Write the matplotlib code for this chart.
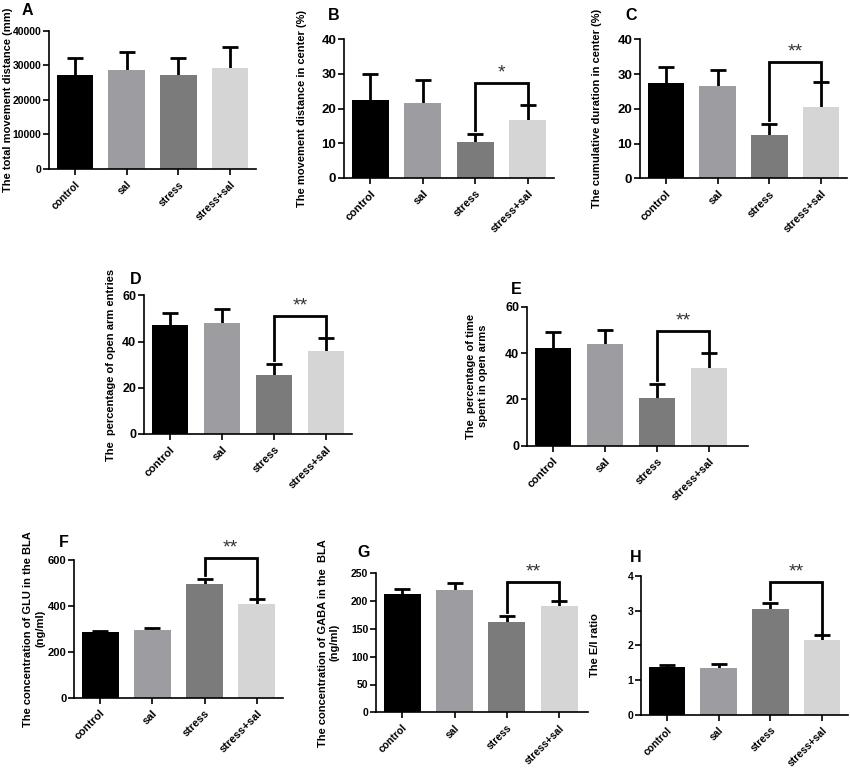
import numpy as np
import matplotlib
matplotlib.use("Agg")
from matplotlib import pyplot as plt

plt.rcParams['font.family'] = ['Liberation Sans', 'DejaVu Sans']
plt.rcParams['font.weight'] = 'bold'

groups = ["control", "sal", "stress", "stress+sal"]
colors = ["#000000", "#9d9da1", "#7b7b7b", "#d5d5d5"]

# mean and error values
a_mean = [27300, 28800, 27300, 29200]
a_err = [4800, 5000, 4800, 6100]
b_mean = [22.5, 21.5, 10.4, 16.7]
b_err = [7.4, 6.8, 2.2, 4.2]
c_mean = [27.5, 26.6, 12.5, 20.6]
c_err = [4.4, 4.6, 3.1, 7.1]
d_mean = [47.2, 48.1, 25.5, 35.9]
d_err = [5.3, 6.0, 4.8, 5.5]
e_mean = [42.0, 43.9, 20.7, 33.7]
e_err = [6.9, 6.0, 5.9, 6.2]
f_mean = [285, 295, 493, 408]
f_err = [7, 9, 22, 21]
g_mean = [212.8, 220.0, 162.4, 191.7]
g_err = [9.0, 12.0, 10.3, 9.0]
h_mean = [1.38, 1.36, 3.05, 2.14]
h_err = [0.04, 0.09, 0.18, 0.15]

# panel letter, ylabel, data, y max, y step, stars, bracket height
panels = [
    ("A", "The total movement distance (mm)", a_mean, a_err, 40000, 10000, None, None),
    ("B", "The movement distance in center (%)", b_mean, b_err, 40, 10, "*", 27.3),
    ("C", "The cumulative duration in center (%)", c_mean, c_err, 40, 10, "**", 33.6),
    ("D", "The  percentage of open arm entries", d_mean, d_err, 60, 20, "**", 51.2),
    ("E", "The  percentage of time\nspent in open arms", e_mean, e_err, 60, 20, "**", 49.5),
    ("F", "The concentration of GLU in the BLA\n(ng/ml)", f_mean, f_err, 600, 200, "**", 607),
    ("G", "The concentration of GABA in the  BLA\n(ng/ml)", g_mean, g_err, 250, 50, "**", 233.8),
    ("H", "The E/I ratio", h_mean, h_err, 4, 1, "**", 3.82),
]

# layout in pixels: axes left, right, top, bottom, right xlim,
# ylabel right edge, letter left, letter top, tick font size
W, H = 850, 769
layout = [
    (49, 256, 31, 169, 3.5, 13, 22, 3, 7.5),
    (344, 554, 39, 178, 3.5, 307, 328, 8, 9.5),
    (640, 847, 39.3, 178.3, 3.5, 602, 625, 8, 9.5),
    (144, 352, 295.3, 434, 3.5, 116, 130, 272, 9),
    (527, 748, 306.7, 445.7, 3.75, 488, 511, 282, 9),
    (74, 283, 559.7, 697.7, 3.5, 45, 59, 535, 8),
    (376, 588, 573.3, 712.3, 3.55, 340, 357, 545, 7.5),
    (641, 848, 576, 714.7, 3.5, 600, 630, 550, 7.5),
]

fig = plt.figure(figsize=(W / 100, H / 100), dpi=100)

for (letter, ylabel, mean, err, ymax, ystep, stars, top), lay in zip(panels, layout):
    x0, x1, yt, yb, xr, lab_x, let_x, let_y, tsize = lay
    ax = fig.add_axes([x0 / W, 1 - yb / H, (x1 - x0) / W, (yb - yt) / H])
    x = np.arange(len(groups))
    ax.errorbar(x, mean, yerr=err, fmt='none', ecolor='black', elinewidth=2,
                capsize=6, capthick=2, zorder=1)
    ax.bar(x, mean, width=0.71, color=colors, zorder=2)
    ax.set_xlim(-0.5, xr)
    ax.set_ylim(0, ymax)
    ax.set_yticks(np.arange(0, ymax + ystep / 2, ystep))
    ax.set_xticks(x)
    ax.set_xticklabels(groups, rotation=45, ha='right', rotation_mode='anchor',
                       fontsize=min(tsize, 8))
    for s in ['top', 'right']:
        ax.spines[s].set_visible(False)
    for s in ['left', 'bottom']:
        ax.spines[s].set_linewidth(1.2)
    ax.tick_params(axis='both', width=1.2, length=4)
    ax.tick_params(axis='y', labelsize=tsize, pad=1.5)
    ax.set_ylabel(ylabel, fontsize=8, fontweight='bold')
    ax.yaxis.set_label_coords((lab_x - x0) / (x1 - x0), 0.5)
    fig.text(let_x / W, 1 - let_y / H, letter, fontsize=11.5,
             fontweight='bold', va='top', ha='left')
    if stars:
        lb = mean[2] + err[2] + 0.03 * ymax
        rb = mean[3] + err[3] + 0.008 * ymax
        ax.plot([2, 2, 3, 3], [lb, top, top, rb], color='black', lw=2,
                clip_on=False, zorder=3, solid_joinstyle='miter')
        ax.annotate(stars, (2.5, top), xytext=(0, 1), textcoords='offset points',
                    ha='center', va='bottom', fontsize=14, fontweight='normal',
                    color='#333333', annotation_clip=False)

fig.savefig("out.png", dpi=100)
